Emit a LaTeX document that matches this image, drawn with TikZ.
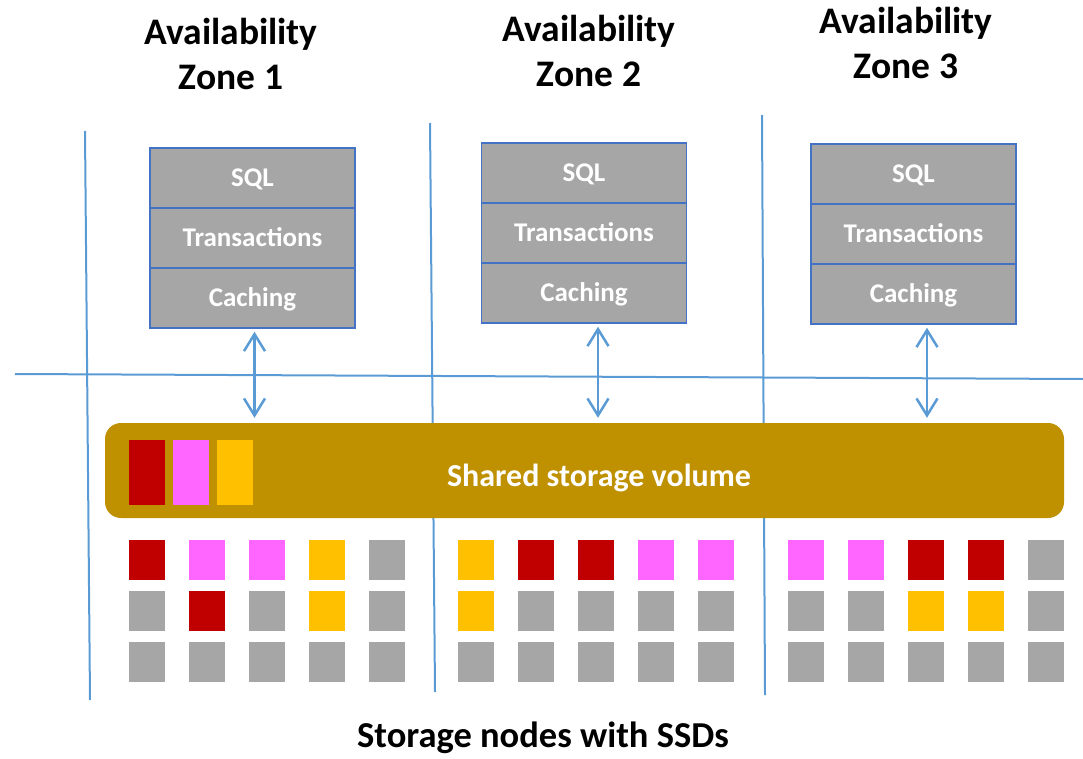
\documentclass[tikz,border=0pt]{standalone}
\usepackage{fontspec}
\setmainfont{Carlito}
\usetikzlibrary{arrows.meta}

\definecolor{divblue}{HTML}{5B9BD5}
\definecolor{boxblue}{HTML}{4472C4}
\definecolor{layergray}{HTML}{A6A6A6}
\definecolor{volgold}{HTML}{BF9000}
\definecolor{blkred}{HTML}{C00000}
\definecolor{blkpink}{HTML}{FF66FF}
\definecolor{blkyel}{HTML}{FFC000}

\tikzset{
  zonetitle/.style={font=\fontsize{37.5}{45}\selectfont\bfseries, align=center},
  layer/.style={draw=boxblue, line width=1.5pt, fill=layergray, minimum width=205pt, minimum height=60pt, inner sep=0pt, text=white, font=\fontsize{27}{30}\selectfont\bfseries, text height=17.4pt, text depth=0pt},
  divider/.style={draw=divblue, line width=2pt},
  link/.style={draw=divblue, line width=2.5pt, shorten <=3pt, shorten >=5pt, {Straight Barb[length=17pt,width=21pt]}-{Straight Barb[length=17pt,width=21pt]}},
  volume/.style={fill=volgold, rounded corners=16pt, minimum width=959pt, minimum height=95pt, inner sep=0pt},
  chunk/.style={minimum width=36pt, minimum height=65pt, inner sep=0pt},
  ssd/.style={minimum width=36pt, minimum height=40pt, inner sep=0pt},
}

\begin{document}
\begin{tikzpicture}[x=1pt,y=-1pt]
	\useasboundingbox (0,0) rectangle (1083,759);

	\draw[divider] (15,374) -- (1083,379);
	\draw[divider] (85,131) -- (90,700);
	\draw[divider] (430,123) -- (435,692);
	\draw[divider] (762,115) -- (765,695);

	\node[zonetitle] (zone1) at (231,54) {Availability\\Zone 1};
	\node[zonetitle] (zone2) at (589,51) {Availability\\Zone 2};
	\node[zonetitle] (zone3) at (906,43) {Availability\\Zone 3};

	\node[layer] (sql1)   at (252.5,178) {SQL};
	\node[layer] (txn1)   at (252.5,238) {Transactions};
	\node[layer] (cache1) at (252.5,298) {Caching};
	\node[layer] (sql2)   at (584,173)   {SQL};
	\node[layer] (txn2)   at (584,233)   {Transactions};
	\node[layer] (cache2) at (584,293)   {Caching};
	\node[layer] (sql3)   at (913.5,174) {SQL};
	\node[layer] (txn3)   at (913.5,234) {Transactions};
	\node[layer] (cache3) at (913.5,294) {Caching};

	\node[volume] (vol) at (584.5,470.5) {};
	\node[text=white, font=\fontsize{32}{36}\selectfont\bfseries] (vollabel) at (599,478) {Shared storage volume};
	\node[chunk, fill=blkred]  (chunk1) at (147,472.5) {};
	\node[chunk, fill=blkpink] (chunk2) at (191,472.5) {};
	\node[chunk, fill=blkyel]  (chunk3) at (235,472.5) {};

	\draw[link] ([xshift=2pt]cache1.south) -- ([xshift=2pt]cache1.south |- vol.north);
	\draw[link] ([xshift=14pt]cache2.south) -- ([xshift=14pt]cache2.south |- vol.north);
	\draw[link] ([xshift=13.5pt]cache3.south) -- ([xshift=13.5pt]cache3.south |- vol.north);

	\foreach \c [count=\i] in {blkred,blkpink,blkpink,blkyel,layergray}
		\node[ssd, fill=\c] (ssd1a\i) at (87+60*\i,560) {};
	\foreach \c [count=\i] in {layergray,blkred,layergray,blkyel,layergray}
		\node[ssd, fill=\c] (ssd1b\i) at (87+60*\i,611) {};
	\foreach \c [count=\i] in {layergray,layergray,layergray,layergray,layergray}
		\node[ssd, fill=\c] (ssd1c\i) at (87+60*\i,662) {};

	\foreach \c [count=\i] in {blkyel,blkred,blkred,blkpink,blkpink}
		\node[ssd, fill=\c] (ssd2a\i) at (416+60*\i,560) {};
	\foreach \c [count=\i] in {blkyel,layergray,layergray,layergray,layergray}
		\node[ssd, fill=\c] (ssd2b\i) at (416+60*\i,611) {};
	\foreach \c [count=\i] in {layergray,layergray,layergray,layergray,layergray}
		\node[ssd, fill=\c] (ssd2c\i) at (416+60*\i,662) {};

	\foreach \c [count=\i] in {blkpink,blkpink,blkred,blkred,layergray}
		\node[ssd, fill=\c] (ssd3a\i) at (746+60*\i,560) {};
	\foreach \c [count=\i] in {layergray,layergray,blkyel,blkyel,layergray}
		\node[ssd, fill=\c] (ssd3b\i) at (746+60*\i,611) {};
	\foreach \c [count=\i] in {layergray,layergray,layergray,layergray,layergray}
		\node[ssd, fill=\c] (ssd3c\i) at (746+60*\i,662) {};

	\node[font=\fontsize{36.5}{40}\selectfont\bfseries, anchor=base] (caption) at (543,747) {Storage nodes with SSDs};
\end{tikzpicture}
\end{document}
